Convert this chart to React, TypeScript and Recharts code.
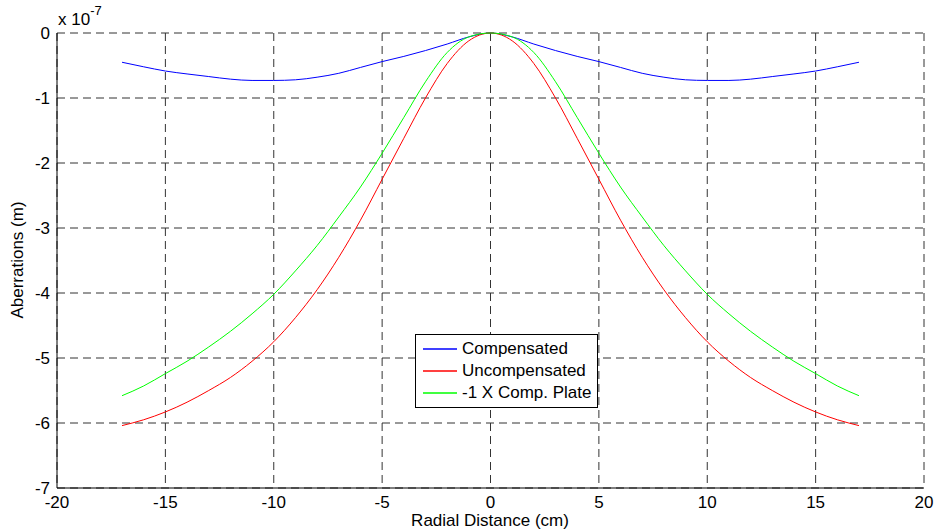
import React from 'react';
import { LineChart, Line, XAxis, YAxis, CartesianGrid, Legend } from 'recharts';

// radial distance in cm, aberrations in units of 1e-7 m
const radial = [
  -17, -16, -15, -14, -13, -12, -11, -10, -9, -8, -7, -6, -5, -4, -3, -2, -1, 0,
  1, 2, 3, 4, 5, 6, 7, 8, 9, 10, 11, 12, 13, 14, 15, 16, 17,
];
const compensated = [
  -0.45, -0.52, -0.585, -0.63, -0.67, -0.71, -0.73, -0.73, -0.72, -0.68, -0.62, -0.53, -0.44, -0.36, -0.27, -0.17, -0.06, 0,
  -0.06, -0.17, -0.27, -0.36, -0.44, -0.53, -0.62, -0.68, -0.72, -0.73, -0.73, -0.71, -0.67, -0.63, -0.585, -0.52, -0.45,
];
const uncompensated = [
  -6.04, -5.95, -5.83, -5.68, -5.5, -5.3, -5.05, -4.75, -4.38, -3.95, -3.45, -2.88, -2.25, -1.62, -1.0, -0.47, -0.12, 0,
  -0.12, -0.47, -1.0, -1.62, -2.25, -2.88, -3.45, -3.95, -4.38, -4.75, -5.05, -5.3, -5.5, -5.68, -5.83, -5.95, -6.04,
];
const compPlate = [
  -5.58, -5.43, -5.24, -5.05, -4.83, -4.59, -4.32, -4.02, -3.66, -3.27, -2.83, -2.37, -1.85, -1.3, -0.75, -0.3, -0.06, 0,
  -0.06, -0.3, -0.75, -1.3, -1.85, -2.37, -2.83, -3.27, -3.66, -4.02, -4.32, -4.59, -4.83, -5.05, -5.24, -5.43, -5.58,
];
const xTicks = [-20, -15, -10, -5, 0, 5, 10, 15, 20];
const yTicks = [0, -1, -2, -3, -4, -5, -6, -7];

const series = [
  { key: 'compensated', name: 'Compensated', color: '#0000ff' },
  { key: 'uncompensated', name: 'Uncompensated', color: '#ff0000' },
  { key: 'compPlate', name: '-1 X Comp. Plate', color: '#00ff00' },
];

const data = radial.map((r, i) => ({
  r,
  compensated: compensated[i],
  uncompensated: uncompensated[i],
  compPlate: compPlate[i],
}));

const font = '"Liberation Sans", Arial, sans-serif';

const LegendBox = () => (
  <div
    style={{
      border: '1px solid #000',
      background: '#fff',
      padding: '3px 6px 3px 7px',
      fontFamily: font,
      fontSize: 17,
      lineHeight: '22px',
      color: '#000',
    }}
  >
    {series.map((s) => (
      <div key={s.key} style={{ display: 'flex', alignItems: 'center' }}>
        <svg width={34} height={4} style={{ marginRight: 5 }}>
          <line x1={0} y1={2} x2={34} y2={2} stroke={s.color} strokeWidth={1.5} />
        </svg>
        <span>{s.name}</span>
      </div>
    ))}
  </div>
);

export default function App() {
  return (
    <div style={{ position: 'absolute', left: 0, top: 0, width: 936, height: 531, background: '#fff' }}>
      <LineChart
        width={936}
        height={531}
        data={data}
        margin={{ top: 33, right: 12, bottom: 13, left: 12 }}
      >
        <CartesianGrid stroke="#333" strokeDasharray="8 5" />
        <XAxis
          dataKey="r"
          type="number"
          domain={[-20, 20]}
          ticks={xTicks}
          height={30}
          tickLine={false}
          axisLine={{ stroke: '#000' }}
          tick={{ fill: '#000', fontSize: 17, fontFamily: font }}
          tickMargin={2}
        />
        <XAxis
          xAxisId="top"
          orientation="top"
          type="number"
          domain={[-20, 20]}
          ticks={xTicks}
          height={0}
          tick={false}
          tickLine={false}
          axisLine={{ stroke: '#000' }}
        />
        <YAxis
          type="number"
          domain={[-7, 0]}
          ticks={yTicks}
          width={45}
          tickLine={false}
          axisLine={{ stroke: '#000' }}
          tick={{ fill: '#000', fontSize: 17, fontFamily: font }}
          tickMargin={1}
        />
        <YAxis
          yAxisId="right"
          orientation="right"
          type="number"
          domain={[-7, 0]}
          width={0}
          tick={false}
          tickLine={false}
          axisLine={{ stroke: '#000' }}
        />
        {series.map((s) => (
          <Line
            key={s.key}
            type="monotone"
            dataKey={s.key}
            name={s.name}
            stroke={s.color}
            strokeWidth={1}
            dot={false}
            isAnimationActive={false}
          />
        ))}
        <Legend
          layout="vertical"
          align="center"
          verticalAlign="middle"
          content={<LegendBox />}
          wrapperStyle={{ left: 415, top: 334, width: 'auto' }}
        />
      </LineChart>
      <div style={{ position: 'absolute', left: 58, top: 10, fontFamily: font, fontSize: 17, color: '#000' }}>
        x 10<sup style={{ fontSize: 13, verticalAlign: 'top', position: 'relative', top: -7 }}>-7</sup>
      </div>
      <div
        style={{
          position: 'absolute',
          left: 18,
          top: 260,
          transform: 'translate(-50%, -50%) rotate(-90deg)',
          fontFamily: font,
          fontSize: 17,
          whiteSpace: 'nowrap',
          color: '#000',
        }}
      >
        Aberrations (m)
      </div>
      <div
        style={{
          position: 'absolute',
          left: 490,
          top: 521,
          transform: 'translate(-50%, -50%)',
          fontFamily: font,
          fontSize: 17,
          whiteSpace: 'nowrap',
          color: '#000',
        }}
      >
        Radial Distance (cm)
      </div>
    </div>
  );
}
